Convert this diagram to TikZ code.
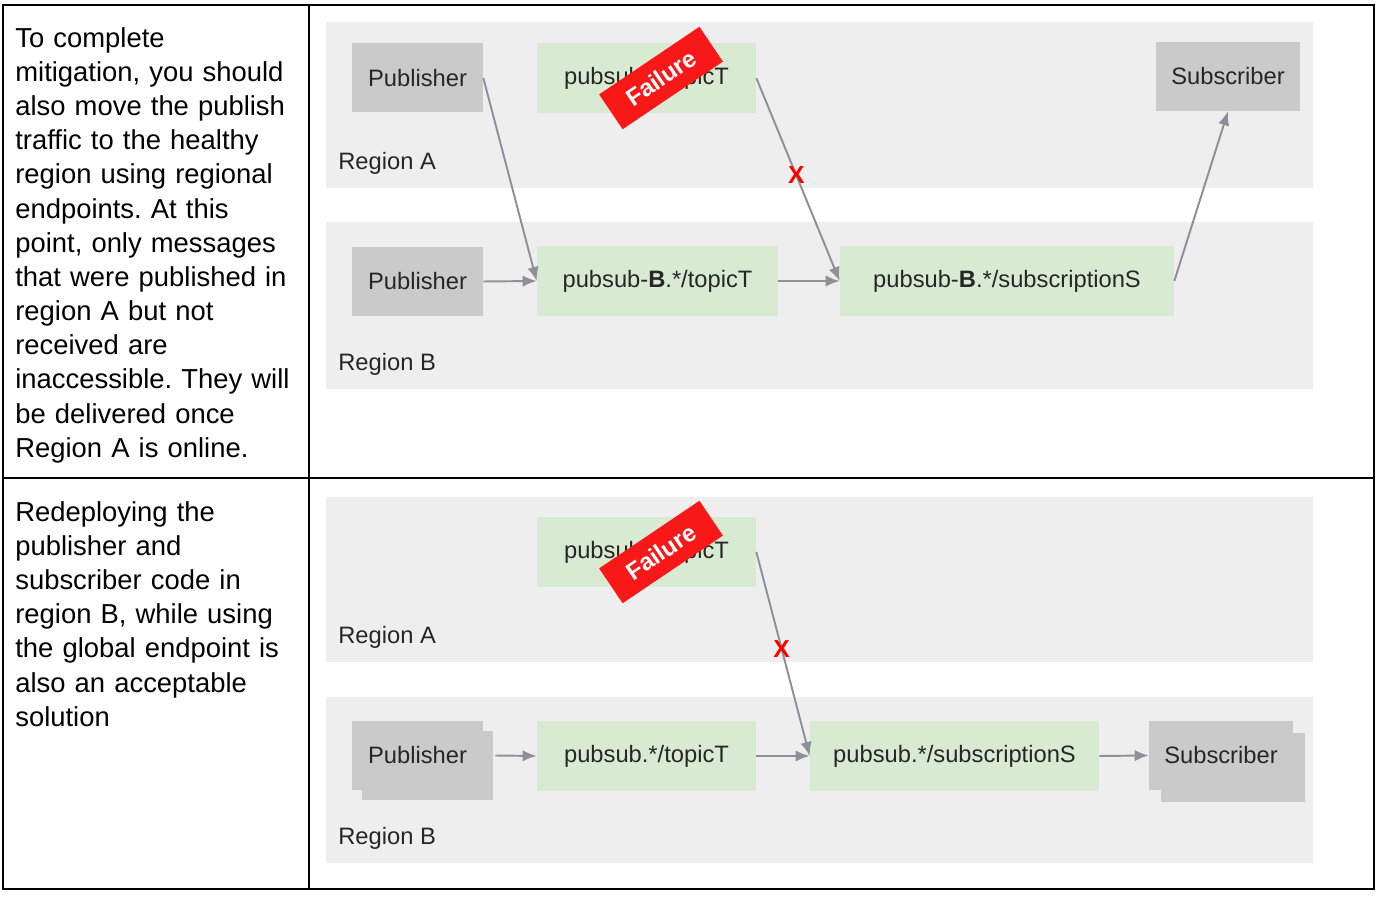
\documentclass[tikz,border=0pt]{standalone}
\usepackage{fontspec}
\setmainfont{Liberation Sans}
\usetikzlibrary{shadows,arrows.meta}
\frenchspacing

\definecolor{regionbg}{HTML}{EEEEEE}
\definecolor{hostgray}{HTML}{CACACA}
\definecolor{topicgreen}{HTML}{D9EAD3}
\definecolor{flowgray}{HTML}{8C9099}
\definecolor{failred}{HTML}{F81818}
\definecolor{labeltext}{HTML}{262626}

\tikzset{
	hostbox/.style={fill=hostgray, minimum width=2.62cm, minimum height=1.38cm, inner sep=0, text=labeltext, font=\fontsize{13.5}{16}\selectfont},
	pubsubbox/.style={fill=topicgreen, minimum height=1.4cm, inner sep=0, text=labeltext, font=\fontsize{13.5}{16}\selectfont},
	failbox/.style={fill=failred, minimum width=2.42cm, minimum height=0.84cm, inner sep=0, text=white, font=\fontsize{13.7}{15}\selectfont\bfseries},
	regionlbl/.style={anchor=west, inner sep=0, text=labeltext, font=\fontsize{13.5}{16}\selectfont},
	celltext/.style={anchor=north west, inner sep=0, text width=5.9cm, align=left, font=\fontsize{15.6}{19.45}\selectfont},
	flow/.style={draw=flowgray, line width=1.1pt, -{Latex[length=8pt,width=6.5pt]}},
	xmark/.style={text=red, inner sep=0, font=\fontsize{14}{15}\selectfont\bfseries},
	stacked/.style={copy shadow={shadow xshift=#1, shadow yshift=-#1, fill=hostgray, draw=none}}
}

\begin{document}
\begin{tikzpicture}[x=0.02cm, y=-0.02cm]
	\useasboundingbox (0,0) rectangle (1400,901);

	% table
	\draw[black, line width=1.2pt] (3,5) rectangle (1374,889);
	\draw[black, line width=1.2pt] (309,5) -- (309,889);
	\draw[black, line width=1.2pt] (3,478) -- (1374,478);

	\node[celltext] (noteA) at (15,27) {To complete\\mitigation, you should\\also move the publish\\traffic to the healthy\\region using regional\\endpoints. At this\\point, only messages\\that were published in\\region A but not\\received are\\inaccessible. They will\\be delivered once\\Region A is online.};
	\node[celltext] (noteB) at (15,501) {Redeploying the\\publisher and\\subscriber code in\\region B, while using\\the global endpoint is\\also an acceptable\\solution};

	% first diagram: regional endpoints
	\fill[regionbg] (326,22) rectangle (1313,188);
	\fill[regionbg] (326,222) rectangle (1313,389);

	\node[hostbox] (pubA) at (417.5,78) {Publisher};
	\node[pubsubbox, minimum width=4.38cm] (topicA) at (646.5,78) {pubsub.*/topicT};
	\node[failbox, rotate=34] (failA) at (661,78) {Failure};
	\node[hostbox, minimum width=2.88cm] (subscrA) at (1228,76.5) {Subscriber};
	\node[regionlbl] (regA) at (338,163) {Region A};

	\node[hostbox] (pubB) at (417.5,281.5) {Publisher};
	\node[pubsubbox, minimum width=4.82cm] (topicB) at (657.5,281) {pubsub-\textbf{B}.*/topicT};
	\node[pubsubbox, minimum width=6.68cm] (subB) at (1007,281) {pubsub-\textbf{B}.*/subscriptionS};
	\node[regionlbl] (regB) at (338,364) {Region B};

	\draw[flow] (pubA.east) -- (topicB.west);
	\draw[flow] (topicA.east) -- node[xmark, pos=0.48] (cutA) {X} (subB.west);
	\draw[flow] (pubB.east) -- (topicB.west);
	\draw[flow] (topicB.east) -- (subB.west);
	\draw[flow] (subB.east) -- (subscrA.south);

	% second diagram: global endpoint
	\fill[regionbg] (326,497) rectangle (1313,662);
	\fill[regionbg] (326,697) rectangle (1313,863);

	\node[pubsubbox, minimum width=4.38cm] (topicA2) at (646.5,552) {pubsub.*/topicT};
	\node[failbox, rotate=34] (failA2) at (661,552) {Failure};
	\node[regionlbl] (regA2) at (338,637) {Region A};

	\node[hostbox, stacked=0.2cm] (pub2) at (417.5,755.5) {Publisher};
	\node[pubsubbox, minimum width=4.38cm] (topic2) at (646.5,756) {pubsub.*/topicT};
	\node[pubsubbox, minimum width=5.78cm] (sub2) at (954.5,756) {pubsub.*/subscriptionS};
	\node[hostbox, minimum width=2.88cm, stacked=0.24cm] (subscr2) at (1221,755.5) {Subscriber};
	\node[regionlbl] (regB2) at (338,838) {Region B};

	\draw[flow] ([xshift=0.24cm]pub2.east) -- (topic2.west);
	\draw[flow] (topic2.east) -- (sub2.west);
	\draw[flow] (sub2.east) -- (subscr2.west);
	\draw[flow] (topicA2.east) -- node[xmark, pos=0.475] (cutA2) {X} (sub2.west);
\end{tikzpicture}
\end{document}
